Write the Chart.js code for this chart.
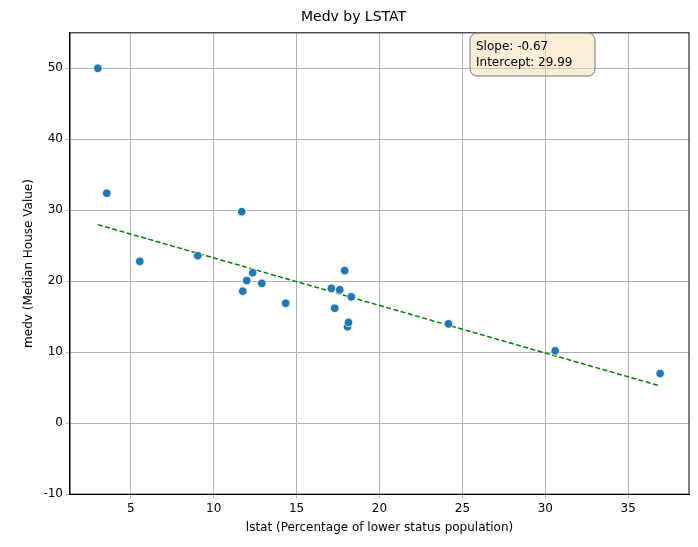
<!DOCTYPE html>
<html>
<head>
<meta charset="utf-8">
<script src="https://cdn.jsdelivr.net/npm/chart.js@4/dist/chart.umd.min.js"></script>
<style>
  body { margin: 0; background: #fff; }
  #wrap { width: 698px; height: 547px; }
</style>
</head>
<body>
<div id="wrap"><canvas id="c" width="698" height="547"></canvas></div>
<script>
// points
const lstat = [3.01, 3.55, 5.54, 9.04, 11.69, 11.75, 11.99, 12.35, 12.9, 14.34, 17.1, 17.3, 17.6, 17.9, 18.07, 18.13, 18.3, 24.16, 30.6, 36.93];
const medv = [50.0, 32.4, 22.8, 23.6, 29.8, 18.6, 20.1, 21.2, 19.7, 16.9, 19.0, 16.2, 18.8, 21.5, 13.6, 14.2, 17.8, 14.0, 10.2, 7.0];
const slope = -0.67;
const intercept = 29.99;
const xTicks = [5, 10, 15, 20, 25, 30, 35];
const yTicks = [-10, 0, 10, 20, 30, 40, 50];

const xMin = Math.min(...lstat), xMax = Math.max(...lstat);
const fitLine = [
    { x: xMin, y: intercept + slope * xMin },
    { x: xMax, y: intercept + slope * xMax }
];

Chart.defaults.font.family = 'DejaVu Sans';
Chart.defaults.font.size = 12;
Chart.defaults.color = '#000';

// text box in the upper right, like a matplotlib bbox
const statsBox = {
    id: 'statsBox',
    afterDraw(chart) {
        const ctx = chart.ctx;
        const a = chart.chartArea;
        ctx.save();
        // full frame around the axes
        ctx.strokeStyle = '#000';
        ctx.lineWidth = 1;
        ctx.strokeRect(a.left, a.top, a.right - a.left, a.bottom - a.top);
        const x = 470, y = 33, w = 125, h = 43, r = 7;
        ctx.beginPath();
        ctx.roundRect(x, y, w, h, r);
        ctx.fillStyle = 'rgba(245, 222, 179, 0.5)';
        ctx.fill();
        ctx.strokeStyle = '#777';
        ctx.stroke();
        ctx.fillStyle = '#000';
        ctx.font = '12px DejaVu Sans';
        ctx.textBaseline = 'middle';
        ctx.fillText('Slope: ' + slope.toFixed(2), x + 6, y + 14);
        ctx.fillText('Intercept: ' + intercept.toFixed(2), x + 6, y + 30);
        ctx.restore();
    }
};

new Chart(document.getElementById('c'), {
    type: 'scatter',
    data: {
        datasets: [{
            data: lstat.map((v, i) => ({ x: v, y: medv[i] })),
            backgroundColor: '#1f77b4',
            borderColor: '#fff',
            borderWidth: 0.8,
            pointRadius: 4.3,
            order: 1
        }, {
            type: 'line',
            data: fitLine,
            borderColor: 'green',
            borderWidth: 1.5,
            borderDash: [5, 2.5],
            pointRadius: 0,
            fill: false,
            order: 2
        }]
    },
    options: {
        responsive: false,
        animation: false,
        layout: { padding: { left: 18, right: 9, top: 2, bottom: 8 } },
        plugins: {
            legend: { display: false },
            tooltip: { enabled: false },
            title: {
                display: true,
                text: 'Medv by LSTAT',
                font: { size: 14, weight: 'normal' },
                padding: { top: 7, bottom: 7 }
            }
        },
        scales: {
            x: {
                type: 'linear',
                min: 1.33,
                max: 38.67,
                afterBuildTicks: axis => { axis.ticks = xTicks.map(v => ({ value: v })); },
                grid: { color: '#b0b0b0', tickLength: 4 },
                border: { color: '#000' },
                ticks: { color: '#000' },
                title: { display: true, text: 'lstat (Percentage of lower status population)', padding: { top: 2 } }
            },
            y: {
                min: -10,
                max: 55,
                afterBuildTicks: axis => { axis.ticks = yTicks.map(v => ({ value: v })); },
                grid: { color: '#b0b0b0', tickLength: 4 },
                border: { color: '#000' },
                ticks: { color: '#000' },
                title: { display: true, text: 'medv (Median House Value)' }
            }
        }
    },
    plugins: [statsBox]
});
</script>
</body>
</html>
